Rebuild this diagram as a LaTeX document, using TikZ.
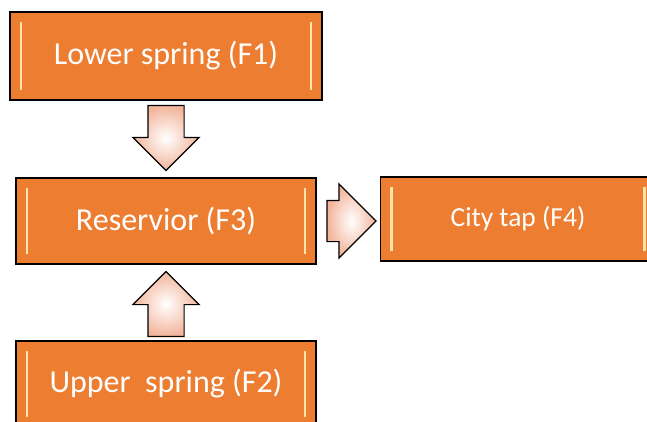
\documentclass[tikz,border=0pt]{standalone}
\usepackage{fontspec}
\setmainfont{Carlito}
\usetikzlibrary{shapes.arrows,calc}
\definecolor{boxorange}{HTML}{ED7D31}
\definecolor{glint}{HTML}{FFE3A8}
\definecolor{peach}{HTML}{F2B49A}
\tikzset{
  stage/.style={draw=black, line width=1.3pt, fill=boxorange, text=white,
    font=\fontsize{32}{36}\selectfont, inner sep=0pt,
    path picture={
      \draw[glint, line width=2.5pt]
        ([xshift=11pt,yshift=-10pt]path picture bounding box.north west) --
        ([xshift=11pt,yshift=10pt]path picture bounding box.south west);
      \draw[glint, line width=2.5pt]
        ([xshift=-11pt,yshift=-10pt]path picture bounding box.north east) --
        ([xshift=-11pt,yshift=10pt]path picture bounding box.south east);
    }},
  flow/.style={single arrow, draw=black, line width=1.2pt, inner xsep=0pt, anchor=tip,
    inner color=white, outer color=peach},
}
\begin{document}
\begin{tikzpicture}[x=1pt,y=-1pt]
	\useasboundingbox (0,0) rectangle (647,421);
	\clip (0,0) rectangle (647,421);
	% sources and reservoir
	\node[stage, minimum width=312pt, minimum height=88pt] (f1) at (166,56) {Lower spring (F1)};
	\node[stage, minimum width=300pt, minimum height=86pt] (f3) at (166,221) {Reservior (F3)};
	\node[stage, minimum width=300pt, minimum height=86pt] (f2) at (166,384) {Upper\ \ spring (F2)};
	\node[stage, minimum width=275pt, minimum height=84pt, font=\fontsize{27.5}{32}\selectfont] (f4) at (518,219) {City tap (F4)};
	% flows
	\node[flow, rotate=-90, minimum height=65pt, inner ysep=17.5pt, single arrow head extend=15pt]
		(a13) at ($(f3.north)+(0,-6)$) {};
	\node[flow, rotate=90, minimum height=65pt, inner ysep=17.5pt, single arrow head extend=15pt]
		(a23) at ($(f3.south)+(0,6)$) {};
	\node[flow, minimum height=49pt, inner ysep=20pt, single arrow head extend=16.5pt]
		(a34) at ($(f4.west|-f3.east)+(-3,0)$) {};
\end{tikzpicture}
\end{document}
